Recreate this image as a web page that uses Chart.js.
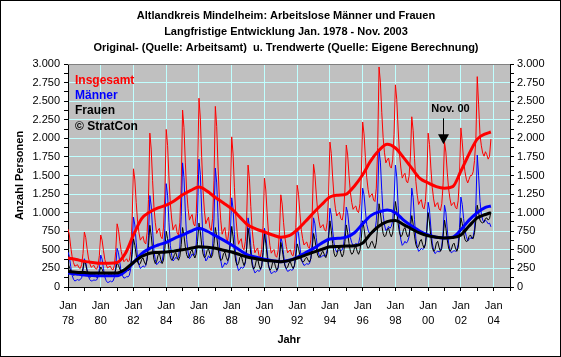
<!DOCTYPE html>
<html><head><meta charset="utf-8">
<script src="https://cdn.jsdelivr.net/npm/chart.js@4/dist/chart.umd.min.js"></script>
<style>html,body{margin:0;padding:0;background:#fff;overflow:hidden}#wrap{width:561px;height:357px;position:relative}</style>
</head><body><div id="wrap"><canvas id="c" width="561" height="357"></canvas></div>
<script>
// Monthly values Jan 1978 .. Nov 2003 (one row per year, Jan..Dec)
const insgesamt = [
 780,700,540,410,330,280,290,300,260,250,300,450,
 740,665,515,390,315,265,280,290,250,240,285,425,
 700,630,490,370,300,255,270,280,240,230,290,480,
 850,770,610,480,400,340,360,380,340,360,480,900,
 1590,1440,1135,885,730,630,660,680,600,580,730,1175,
 2070,1855,1430,1075,865,720,765,790,680,650,795,1240,
 2120,1905,1480,1125,915,770,815,840,730,700,870,1370,
 2380,2145,1680,1290,1055,900,945,975,850,820,990,1510,
 2540,2275,1740,1295,1025,850,900,940,795,760,925,1430,
 2430,2160,1615,1165,890,710,765,800,655,620,760,1180,
 2020,1790,1335,955,730,575,620,650,530,500,615,955,
 1640,1455,1080,770,585,460,500,525,425,400,505,825,
 1465,1305,985,720,560,455,485,505,420,400,485,735,
 1240,1115,870,665,545,460,485,500,435,420,515,800,
 1370,1245,990,775,650,565,590,605,540,520,635,970,
 1650,1515,1245,1020,885,795,820,840,770,750,870,1230,
 1950,1795,1480,1215,1060,955,985,1005,920,900,1000,1305,
 1910,1775,1500,1275,1135,1045,1075,1090,1020,1000,1120,1490,
 2220,2060,1740,1470,1310,1205,1235,1255,1170,1150,1330,1875,
 2960,2755,2350,2010,1805,1670,1710,1735,1625,1600,1710,2050,
 2720,2520,2125,1795,1600,1465,1505,1530,1425,1400,1490,1755,
 2290,2105,1730,1420,1235,1110,1150,1175,1075,1050,1150,1460,
 2070,1915,1600,1340,1185,1080,1115,1135,1050,1030,1120,1400,
 1950,1815,1545,1320,1185,1095,1120,1140,1070,1050,1160,1485,
 2140,1950,1700,1550,1450,1400,1450,1500,1500,1550,1700,2000,
 2830,2450,2050,1900,1800,1760,1820,1780,1720,1760,1990
];
const maenner = [
 470,410,275,160,105,80,90,100,90,100,125,215,
 380,335,230,140,100,80,85,95,90,95,135,245,
 430,375,245,135,85,60,65,80,70,80,130,265,
 520,460,330,200,150,120,125,140,135,160,250,520,
 940,835,595,390,300,250,265,285,270,285,395,690,
 1230,1090,765,485,365,300,320,345,330,345,465,790,
 1390,1235,870,560,425,350,370,400,380,400,550,945,
 1670,1475,1025,640,470,380,405,445,420,445,580,985,
 1720,1515,1035,625,445,350,375,420,390,420,540,915,
 1600,1400,930,530,355,260,285,325,300,325,400,685,
 1200,1055,710,415,290,220,240,270,250,270,325,540,
 930,820,560,340,240,190,205,225,210,225,280,460,
 790,700,485,300,225,180,190,210,200,210,255,400,
 670,600,440,300,240,210,220,235,225,235,295,470,
 790,715,540,390,325,290,300,315,305,315,385,580,
 930,850,665,505,435,400,410,425,415,425,500,700,
 1060,970,765,590,510,470,480,500,490,500,560,740,
 1075,1000,820,665,595,560,570,585,575,585,675,905,
 1330,1240,1025,840,765,720,730,750,740,750,890,1225,
 1840,1680,1300,975,835,760,780,815,790,815,890,1155,
 1640,1480,1100,775,635,560,580,615,590,615,675,905,
 1330,1205,905,650,540,480,495,520,505,520,580,775,
 1140,1035,795,590,500,450,465,485,470,485,550,745,
 1100,1005,780,590,505,460,475,490,480,490,575,800,
 1210,1110,920,760,680,620,640,660,650,680,780,1100,
 1775,1500,1150,980,900,870,900,880,850,860,810
];
const frauen = [
 310,270,215,175,160,165,190,200,175,160,180,255,
 360,300,215,155,130,145,180,190,155,130,140,195,
 270,240,190,160,145,155,170,180,160,145,170,235,
 330,290,240,200,185,195,220,235,220,230,290,440,
 650,560,430,335,300,315,370,390,335,300,365,555,
 830,695,505,370,315,345,425,450,370,315,360,520,
 750,650,505,400,360,380,440,465,400,360,410,570,
 800,690,540,435,390,415,480,500,435,390,445,615,
 860,740,565,445,395,420,490,515,445,395,435,585,
 800,685,520,400,355,375,450,470,400,355,405,575,
 815,675,480,345,290,315,400,425,345,290,340,525,
 790,645,440,295,240,270,355,385,295,240,285,465,
 720,590,410,280,225,250,330,355,280,225,260,400,
 600,510,380,285,250,265,325,340,285,250,285,405,
 580,515,425,360,335,345,385,400,360,335,380,520,
 720,635,515,430,395,415,465,480,430,395,455,635,
 890,760,585,455,405,430,510,535,455,405,450,610,
 835,730,585,480,440,460,525,545,480,440,490,655,
 890,790,655,560,520,540,600,615,560,520,595,810,
 1120,1000,840,720,675,695,770,790,720,675,725,900,
 1150,1025,850,725,675,700,775,800,725,675,695,805,
 960,845,685,570,525,545,615,640,570,525,575,750,
 1000,860,670,535,480,505,590,615,535,480,520,675,
 900,790,635,525,480,505,570,590,525,480,530,695,
 930,850,720,640,610,620,680,700,660,650,730,900,
 1100,1000,900,870,860,880,920,930,900,920,1010
];
// Trend values (months since Jan 1978)
const trendMonths = [0,6,12,18,24,30,36,42,48,54,60,66,72,78,84,90,96,102,108,114,120,126,132,138,144,150,156,162,168,174,180,186,192,198,204,210,216,222,228,234,240,246,252,258,264,270,276,282,288,294,300,306,310];
const trendInsgesamt = [390,370,345,330,320,320,330,450,700,920,1010,1065,1100,1160,1240,1300,1345,1290,1205,1130,1050,940,830,780,740,700,670,690,770,880,1000,1110,1210,1235,1250,1360,1510,1700,1840,1920,1870,1740,1600,1460,1400,1350,1330,1350,1560,1790,1990,2060,2085];
const trendMaenner = [190,175,160,155,150,150,150,210,330,450,520,565,600,655,700,750,790,750,690,630,565,495,430,400,375,355,340,360,400,460,520,590,645,655,670,730,850,960,1010,1035,1000,900,820,750,700,670,660,670,770,900,1000,1070,1090];
const trendFrauen = [210,200,195,190,190,190,190,240,330,410,455,465,470,485,500,520,540,535,520,495,470,435,400,380,360,350,340,355,390,430,470,505,540,545,550,555,590,720,820,880,895,840,780,725,690,670,660,665,700,820,930,975,1000];
const yearLabels = ['78','80','82','84','86','88','90','92','94','96','98','00','02','04'];
const titleLines = ['Altlandkreis Mindelheim: Arbeitslose Männer und Frauen','Langfristige Entwicklung Jan. 1978 - Nov. 2003','Original- (Quelle: Arbeitsamt)  u. Trendwerte (Quelle: Eigene Berechnung)'];
const legendTexts = ['Insgesamt','Männer','Frauen','© StratCon'];
const annotMonth = 275, annotValue = 1920, annotText = 'Nov. 00';

const FONT = '"Liberation Sans", Arial, sans-serif';
const toXY = arr => arr.map((v,i)=>({x:i,y:v}));
const toTrend = arr => arr.map((v,i)=>({x:trendMonths[i],y:v}));
const fmt = v => v>=1000 ? Math.floor(v/1000)+'.'+String(v%1000).padStart(3,'0') : String(v);
const CYAN = '#C0FFFF';

const deco = {
  id:'deco',
  beforeDraw(chart){
    const {ctx, chartArea:a} = chart;
    ctx.save();
    ctx.fillStyle='#fff'; ctx.fillRect(0,0,chart.width,chart.height);
    ctx.fillStyle='#C0C0C0'; ctx.fillRect(a.left,a.top,a.right-a.left,a.bottom-a.top);
    ctx.restore();
  },
  afterDraw(chart){
    const {ctx, chartArea:a, scales} = chart;
    ctx.save();
    ctx.strokeStyle='#808080'; ctx.lineWidth=1;
    ctx.beginPath(); ctx.moveTo(a.left,a.top+0.5); ctx.lineTo(a.right,a.top+0.5); ctx.stroke();
    ctx.strokeStyle='#000';
    ctx.strokeRect(0.5,0.5,chart.width-1,chart.height-1);
    ctx.fillStyle='#000';
    ctx.font='bold 11px '+FONT; ctx.textAlign='center'; ctx.textBaseline='middle';
    titleLines.forEach((t,i)=>ctx.fillText(t,286,16+i*16));
    ctx.fillText('Jahr',(a.left+a.right)/2,340);
    ctx.save(); ctx.translate(20,(a.top+a.bottom)/2); ctx.rotate(-Math.PI/2); ctx.fillText('Anzahl Personen',0,0); ctx.restore();
    ctx.font='bold 12px '+FONT; ctx.textAlign='left';
    const lc=['#FF0000','#0000FF','#000000','#000000'];
    const ly=[81,96,111,127];
    legendTexts.forEach((t,i)=>{ctx.fillStyle=lc[i]; ctx.fillText(t,a.left+7,ly[i]);});
    // annotation
    const ax = Math.round(scales.x.getPixelForValue(annotMonth))+0.5;
    const ay = scales.y.getPixelForValue(annotValue);
    ctx.fillStyle='#000'; ctx.font='bold 11px '+FONT; ctx.textAlign='center';
    ctx.fillText(annotText, ax+7, ay-35);
    ctx.strokeStyle='#000'; ctx.lineWidth=1;
    ctx.beginPath(); ctx.moveTo(ax,ay-26); ctx.lineTo(ax,ay-9); ctx.stroke();
    ctx.beginPath(); ctx.moveTo(ax-5.5,ay-10); ctx.lineTo(ax+5.5,ay-10); ctx.lineTo(ax,ay); ctx.closePath(); ctx.fill();
    ctx.restore();
  }
};

const tickFont = {family:FONT,size:11,lineHeight:15/11};
new Chart(document.getElementById('c'),{
  type:'line',
  data:{datasets:[
    {data:toTrend(trendFrauen),borderColor:'#000000',borderWidth:3,pointRadius:0,cubicInterpolationMode:'monotone',yAxisID:'y'},
    {data:toTrend(trendMaenner),borderColor:'#0000FF',borderWidth:3,pointRadius:0,cubicInterpolationMode:'monotone',yAxisID:'y'},
    {data:toTrend(trendInsgesamt),borderColor:'#FF0000',borderWidth:3,pointRadius:0,cubicInterpolationMode:'monotone',yAxisID:'y'},
    {data:toXY(frauen),borderColor:'#000000',borderWidth:1,pointRadius:0,tension:0,yAxisID:'y'},
    {data:toXY(maenner),borderColor:'#0000FF',borderWidth:1,pointRadius:0,tension:0,yAxisID:'y'},
    {data:toXY(insgesamt),borderColor:'#FF0000',borderWidth:1,pointRadius:0,tension:0,yAxisID:'y'}
  ]},
  options:{
    responsive:false, animation:false, devicePixelRatio:1,
    layout:{padding:{top:64,left:0,right:0,bottom:0}},
    plugins:{legend:{display:false},tooltip:{enabled:false},title:{display:false}},
    elements:{line:{borderJoinStyle:'round'}},
    scales:{
      x:{type:'linear',min:0,max:324,position:'bottom',
        afterFit(s){s.height=70;},
        afterBuildTicks(s){const t=[];for(let m=0;m<=324;m+=12)t.push({value:m});s.ticks=t;},
        ticks:{autoSkip:false,maxRotation:0,minRotation:0,font:tickFont,color:'#000',padding:7,
          callback(v){const yi=v/12;return yi%2===0?['Jan',yearLabels[yi/2]]:'';}},
        grid:{color:c=>(c.tick&&c.tick.value%24===0&&c.tick.value>0)?CYAN:'rgba(0,0,0,0)',tickColor:'#000',tickLength:4,lineWidth:1},
        border:{color:'#000',width:1}
      },
      y:{type:'linear',min:0,max:3000,position:'left',
        afterFit(s){s.width=68;},
        afterBuildTicks(s){const t=[];for(let v=0;v<=3000;v+=125)t.push({value:v});s.ticks=t;},
        ticks:{autoSkip:false,font:tickFont,color:'#000',padding:4,callback:v=>v%250===0?fmt(v):''},
        grid:{color:c=>(c.tick&&c.tick.value%250===0&&c.tick.value>0&&c.tick.value<3000)?CYAN:'rgba(0,0,0,0)',tickColor:'#000',tickLength:4,lineWidth:1},
        border:{color:'#000',width:1}
      },
      y2:{type:'linear',min:0,max:3000,position:'right',
        afterFit(s){s.width=51;},
        afterBuildTicks(s){const t=[];for(let v=0;v<=3000;v+=125)t.push({value:v});s.ticks=t;},
        ticks:{autoSkip:false,font:tickFont,color:'#000',padding:3,callback:v=>v%250===0?fmt(v):''},
        grid:{drawOnChartArea:false,tickColor:'#000',tickLength:4},
        border:{color:'#000',width:1}
      }
    }
  },
  plugins:[deco]
});
</script></body></html>
